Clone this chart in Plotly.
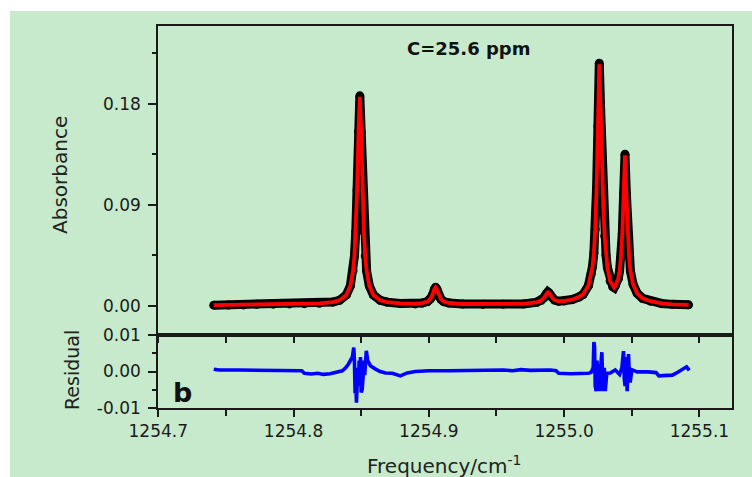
import plotly.graph_objects as go

# ---------------- data ----------------
spectrum_freq = [
    1254.741, 1254.752, 1254.763, 1254.773, 1254.785, 1254.797, 1254.808, 1254.819,
    1254.829, 1254.834, 1254.839, 1254.842, 1254.844, 1254.845, 1254.846, 1254.847,
    1254.848, 1254.849, 1254.850, 1254.851, 1254.852, 1254.853, 1254.854, 1254.856,
    1254.859, 1254.864, 1254.869, 1254.879, 1254.890, 1254.895, 1254.899, 1254.901,
    1254.902, 1254.903, 1254.904, 1254.905, 1254.906, 1254.907, 1254.908, 1254.909,
    1254.911, 1254.915, 1254.925, 1254.940, 1254.955, 1254.970, 1254.980, 1254.983,
    1254.985, 1254.986, 1254.987, 1254.988, 1254.989, 1254.990, 1254.991, 1254.993,
    1254.996, 1255.000, 1255.006, 1255.011, 1255.014, 1255.018, 1255.020, 1255.021,
    1255.022, 1255.023, 1255.024, 1255.025, 1255.026, 1255.027, 1255.028, 1255.029,
    1255.030, 1255.031, 1255.032, 1255.034, 1255.036, 1255.037, 1255.038, 1255.040,
    1255.041, 1255.042, 1255.043, 1255.044, 1255.045, 1255.046, 1255.047, 1255.048,
    1255.049, 1255.051, 1255.054, 1255.058, 1255.064, 1255.072, 1255.080, 1255.092,
]
absorbance_obs = [
    0.0005, 0.0006, 0.0007, 0.0012, 0.0014, 0.0016, 0.0018, 0.0021,
    0.0032, 0.0049, 0.0096, 0.0177, 0.0312, 0.0442, 0.0661, 0.1029,
    0.1551, 0.1870, 0.1551, 0.1029, 0.0661, 0.0442, 0.0312, 0.0177,
    0.0096, 0.0049, 0.0032, 0.0020, 0.0016, 0.0024, 0.0037, 0.0057,
    0.0076, 0.0106, 0.0144, 0.0165, 0.0144, 0.0106, 0.0076, 0.0057,
    0.0037, 0.0024, 0.0015, 0.0013, 0.0014, 0.0016, 0.0032, 0.0046,
    0.0070, 0.0089, 0.0110, 0.0122, 0.0112, 0.0092, 0.0075, 0.0050,
    0.0040, 0.0042, 0.0055, 0.0078, 0.0100, 0.0180, 0.0280, 0.0350,
    0.0470, 0.0680, 0.1050, 0.1600, 0.2160, 0.1750, 0.1250, 0.0870,
    0.0620, 0.0450, 0.0340, 0.0220, 0.0170, 0.0162, 0.0180, 0.0240,
    0.0310, 0.0430, 0.0640, 0.1000, 0.1350, 0.1000, 0.0650, 0.0440,
    0.0310, 0.0190, 0.0110, 0.0065, 0.0040, 0.0020, 0.0012, 0.0008,
]
absorbance_fit = [
    0.0005, 0.0006, 0.0007, 0.0012, 0.0014, 0.0016, 0.0018, 0.0021,
    0.0032, 0.0049, 0.0096, 0.0177, 0.0312, 0.0442, 0.0661, 0.1029,
    0.1551, 0.1860, 0.1551, 0.1029, 0.0661, 0.0442, 0.0312, 0.0177,
    0.0096, 0.0049, 0.0032, 0.0020, 0.0016, 0.0024, 0.0037, 0.0057,
    0.0076, 0.0106, 0.0144, 0.0163, 0.0144, 0.0106, 0.0076, 0.0057,
    0.0037, 0.0024, 0.0015, 0.0013, 0.0014, 0.0016, 0.0032, 0.0046,
    0.0070, 0.0089, 0.0110, 0.0120, 0.0112, 0.0092, 0.0075, 0.0050,
    0.0040, 0.0042, 0.0055, 0.0078, 0.0100, 0.0180, 0.0280, 0.0350,
    0.0470, 0.0680, 0.1050, 0.1600, 0.2150, 0.1750, 0.1250, 0.0870,
    0.0620, 0.0450, 0.0340, 0.0220, 0.0170, 0.0162, 0.0180, 0.0240,
    0.0310, 0.0430, 0.0640, 0.1000, 0.1340, 0.1000, 0.0650, 0.0440,
    0.0310, 0.0190, 0.0110, 0.0065, 0.0040, 0.0020, 0.0012, 0.0008,
]

residual_freq = [
    1254.741, 1254.745, 1254.760, 1254.775, 1254.790, 1254.800, 1254.806, 1254.808,
    1254.813, 1254.818, 1254.822, 1254.827, 1254.832, 1254.836, 1254.8385, 1254.8405,
    1254.8435, 1254.8440, 1254.8445, 1254.8450, 1254.8455, 1254.8460, 1254.8465, 1254.8470,
    1254.8475, 1254.8480, 1254.8485, 1254.8490, 1254.8495, 1254.8500, 1254.8507, 1254.8513,
    1254.8520, 1254.8526, 1254.8532, 1254.8538, 1254.8548, 1254.8568, 1254.860, 1254.864,
    1254.868, 1254.873, 1254.879, 1254.884, 1254.890, 1254.900, 1254.915, 1254.930,
    1254.945, 1254.955, 1254.962, 1254.968, 1254.975, 1254.983, 1254.990, 1254.994,
    1254.996, 1255.005, 1255.012, 1255.018, 1255.020, 1255.0215, 1255.0220, 1255.0225,
    1255.0230, 1255.0237, 1255.0243, 1255.0250, 1255.0256, 1255.0262, 1255.0270, 1255.0275,
    1255.0279, 1255.0285, 1255.0290, 1255.0297, 1255.0304, 1255.0315, 1255.0341, 1255.0378,
    1255.0410, 1255.0427, 1255.0433, 1255.0439, 1255.0445, 1255.0451, 1255.0455, 1255.0460,
    1255.0466, 1255.0471, 1255.0476, 1255.0482, 1255.0488, 1255.0501, 1255.054, 1255.062,
    1255.068, 1255.070, 1255.075, 1255.080, 1255.084, 1255.088, 1255.0905, 1255.0925,
]
residual_val = [
    0.0006, 0.0004, 0.0004, 0.0003, 0.0004, 0.0003, 0.0002, -0.0005,
    -0.0007, -0.0005, -0.0008, -0.0006, -0.0002, 0.0002, 0.0010, 0.0020,
    0.0040, 0.0058, 0.0066, 0.0030, -0.0060, -0.0030, -0.0086, -0.0050,
    0.0010, -0.0040, 0.0030, -0.0020, 0.0040, -0.0058, -0.0050, -0.0020,
    0.0030, -0.0010, 0.0050, 0.0057, 0.0030, 0.0016, 0.0008, 0.0000,
    -0.0004, -0.0005, -0.0012, -0.0004, 0.0000, 0.0002, 0.0002, 0.0003,
    0.0003, 0.0004, 0.0002, 0.0005, 0.0003, 0.0004, 0.0004, 0.0002,
    -0.0005, -0.0006, -0.0006, -0.0005, -0.0002, 0.0010, 0.0081, 0.0070,
    -0.0040, -0.0054, 0.0030, -0.0050, 0.0020, -0.0054, 0.0010, 0.0045,
    0.0053, -0.0030, -0.0054, 0.0010, -0.0054, -0.0005, -0.0004, 0.0004,
    -0.0008, 0.0010, 0.0035, 0.0056, -0.0020, -0.0040, 0.0040, 0.0030,
    -0.0054, -0.0020, 0.0048, -0.0010, -0.0030, 0.0005, -0.0001, -0.0001,
    -0.0003, -0.0012, -0.0011, -0.0010, -0.0002, 0.0006, 0.0013, 0.0003,
]

x_tick_vals = [1254.7, 1254.8, 1254.9, 1255.0, 1255.1]
x_tick_text = ["1254.7", "1254.8", "1254.9", "1255.0", "1255.1"]
x_minor_vals = [1254.75, 1254.85, 1254.95, 1255.05]
abs_tick_vals = [0.00, 0.09, 0.18]
abs_tick_text = ["0.00", "0.09", "0.18"]
abs_minor_vals = [0.045, 0.135, 0.225]
res_tick_vals = [-0.01, 0.00, 0.01]
res_tick_text = ["-0.01", "0.00", "0.01"]
res_minor_vals = [-0.005, 0.005]

# ---------------- styling ----------------
W, H = 752, 477
ML, MR, MT, MB = 158, 20, 26, 69
PW, PH = W - ML - MR, H - MT - MB
GREEN = "#c6eacb"
AXC = "#1a1a1a"
FONT = "DejaVu Sans"
SPLIT = (H - MB - 335) / PH


def px_x(px):
    return (px - ML) / PW


def px_y(py):
    return (H - MB - py) / PH


fig = go.Figure()

fig.add_trace(go.Scatter(
    x=spectrum_freq, y=absorbance_obs, xaxis="x2", yaxis="y2",
    mode="lines+markers", line=dict(color="black", width=9),
    marker=dict(color="black", size=9), showlegend=False, hoverinfo="skip"))
fig.add_trace(go.Scatter(
    x=spectrum_freq, y=absorbance_fit, xaxis="x2", yaxis="y2",
    mode="lines", line=dict(color="#ff0000", width=3.8),
    showlegend=False, hoverinfo="skip"))
fig.add_trace(go.Scatter(
    x=residual_freq, y=residual_val, xaxis="x", yaxis="y",
    mode="lines", line=dict(color="#0000ff", width=3.6),
    showlegend=False, hoverinfo="skip"))

xr = [1254.6998, 1255.1241]
common_line = dict(showline=True, linecolor=AXC, linewidth=1.5, mirror=True,
                   showgrid=False, zeroline=False)

fig.update_layout(
    width=W, height=H,
    margin=dict(l=ML, r=MR, t=MT, b=MB),
    paper_bgcolor="white", plot_bgcolor=GREEN,
    font=dict(family=FONT, size=17, color="#1a1a1a"),
    xaxis=dict(domain=[0, 1], anchor="y", range=xr, **common_line,
               tickmode="array", tickvals=x_tick_vals, ticktext=x_tick_text,
               ticks="outside", ticklen=7, tickwidth=1.5, tickcolor=AXC,
               minor=dict(tickmode="array", tickvals=x_minor_vals, ticks="outside",
                          ticklen=6, tickwidth=1.5, tickcolor=AXC),
               tickfont=dict(family=FONT, size=17)),
    xaxis2=dict(domain=[0, 1], anchor="y2", range=xr, matches="x", **common_line,
                showticklabels=False,
                tickmode="array", tickvals=x_tick_vals,
                ticks="outside", ticklen=6, tickwidth=1.5, tickcolor=AXC,
                minor=dict(tickmode="array", tickvals=x_minor_vals, ticks="outside",
                           ticklen=6, tickwidth=1.5, tickcolor=AXC)),
    yaxis=dict(domain=[0, SPLIT], anchor="x", range=[-0.01005, 0.01005], **common_line,
               tickmode="array", tickvals=res_tick_vals, ticktext=res_tick_text,
               ticks="outside", ticklen=8, tickwidth=1.5, tickcolor=AXC,
               ticklabelstandoff=4,
               minor=dict(tickmode="array", tickvals=res_minor_vals, ticks="outside",
                          ticklen=4, tickwidth=1.5, tickcolor=AXC),
               tickfont=dict(family=FONT, size=17)),
    yaxis2=dict(domain=[SPLIT, 1], anchor="x2", range=[-0.0261, 0.2492], **common_line,
                tickmode="array", tickvals=abs_tick_vals, ticktext=abs_tick_text,
                ticks="outside", ticklen=8, tickwidth=1.5, tickcolor=AXC,
                ticklabelstandoff=4,
                minor=dict(tickmode="array", tickvals=abs_minor_vals, ticks="outside",
                           ticklen=4, tickwidth=1.5, tickcolor=AXC),
                tickfont=dict(family=FONT, size=17)),
    shapes=[dict(type="rect", xref="paper", yref="paper", layer="below",
                 x0=px_x(10), x1=px_x(W), y0=px_y(H), y1=px_y(11),
                 fillcolor=GREEN, line=dict(width=0))],
    annotations=[
        dict(text="<b>C=25.6 ppm</b>", xref="paper", yref="paper",
             x=px_x(469), y=px_y(49), xanchor="center", yanchor="middle",
             showarrow=False, font=dict(family=FONT, size=18, color="#111111")),
        dict(text="<b>b</b>", xref="paper", yref="paper",
             x=px_x(182), y=px_y(392), xanchor="center", yanchor="middle",
             showarrow=False, font=dict(family=FONT, size=27, color="#111111")),
        dict(text="Absorbance", xref="paper", yref="paper", textangle=-90,
             x=px_x(60), y=px_y(175), xanchor="center", yanchor="middle",
             showarrow=False, font=dict(family=FONT, size=20, color="#222222")),
        dict(text="Residual", xref="paper", yref="paper", textangle=-90,
             x=px_x(72), y=px_y(370), xanchor="center", yanchor="middle",
             showarrow=False, font=dict(family=FONT, size=19, color="#222222")),
        dict(text="Frequency/cm<sup>-1</sup>", xref="paper", yref="paper",
             x=px_x(444), y=px_y(465), xanchor="center", yanchor="middle",
             showarrow=False, font=dict(family=FONT, size=20, color="#222222")),
    ],
)

fig.write_html("out.html",
               config={"displayModeBar": False},
               post_script="document.body.style.margin='0';document.body.style.overflow='hidden';")
